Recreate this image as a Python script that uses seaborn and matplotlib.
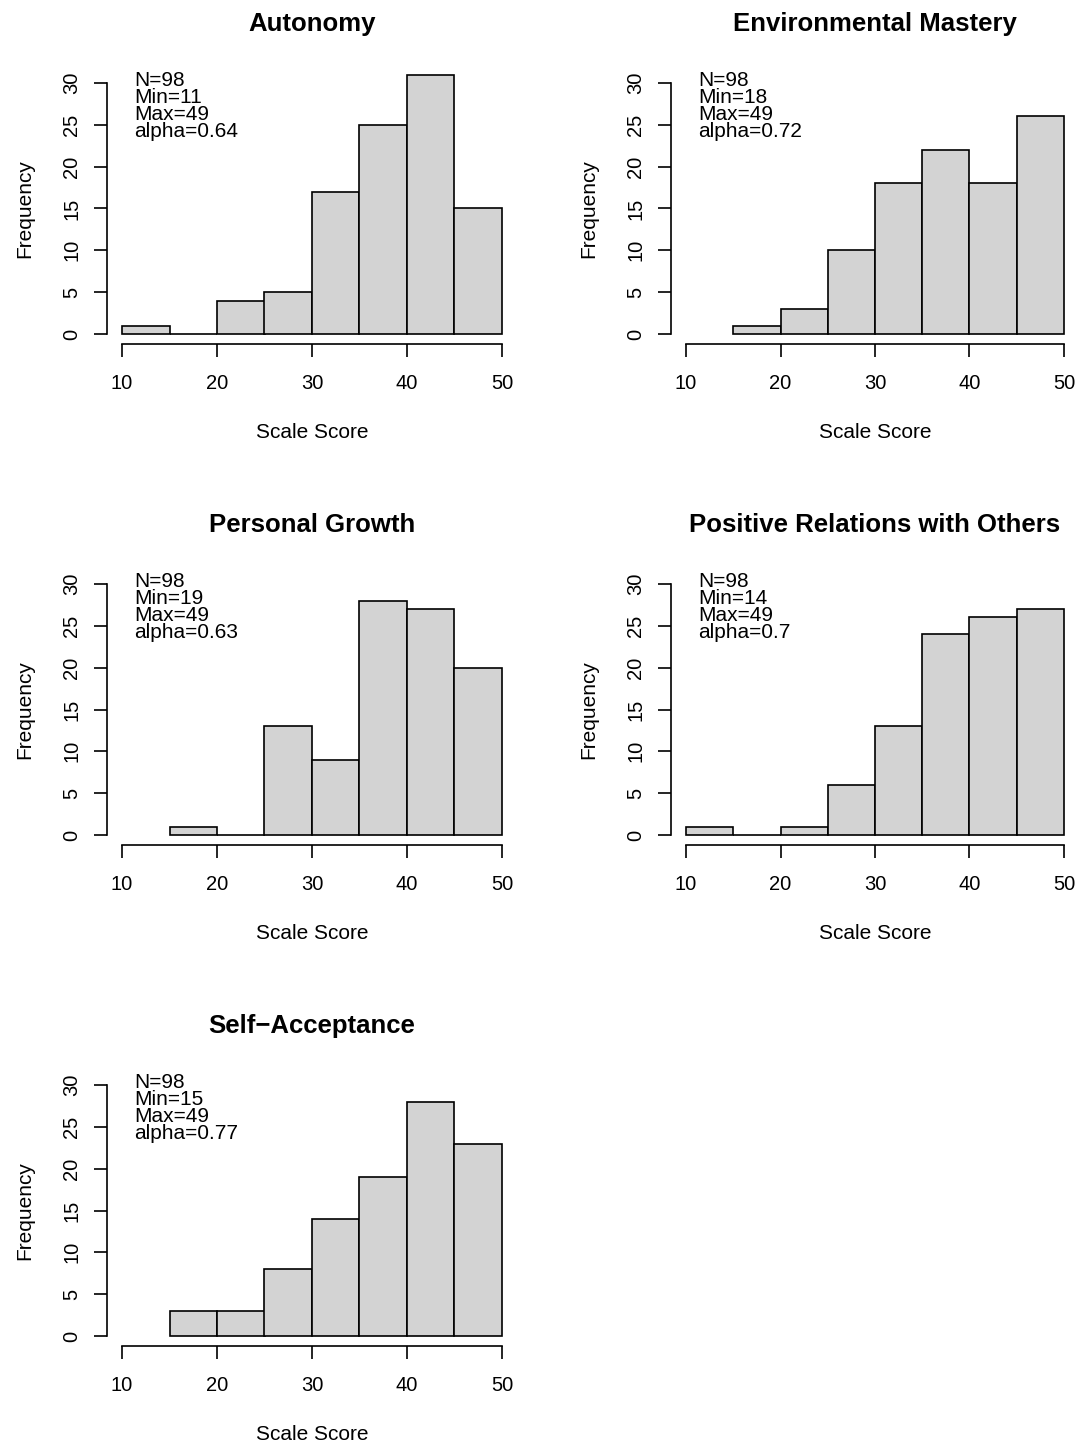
""" Histogramas das escalas de bem-estar (Ryff), 98 respondentes """
import pandas as pd
import matplotlib
matplotlib.use("Agg")
import matplotlib.pyplot as plt
import seaborn as sns

titles = ["Autonomy", "Environmental Mastery", "Personal Growth",
          "Positive Relations with Others", "Self\u2212Acceptance"]

autonomy_edges = [10, 15, 20, 25, 30, 35, 40, 45, 50]
autonomy_counts = [1, 0, 4, 5, 17, 25, 31, 15]

mastery_edges = [15, 20, 25, 30, 35, 40, 45, 50]
mastery_counts = [1, 3, 10, 18, 22, 18, 26]

growth_edges = [15, 20, 25, 30, 35, 40, 45, 50]
growth_counts = [1, 0, 13, 9, 28, 27, 20]

relations_edges = [10, 15, 20, 25, 30, 35, 40, 45, 50]
relations_counts = [1, 0, 1, 6, 13, 24, 26, 27]

acceptance_edges = [15, 20, 25, 30, 35, 40, 45, 50]
acceptance_counts = [3, 3, 8, 14, 19, 28, 23]

n_obs = [98, 98, 98, 98, 98]
min_scores = [11, 18, 19, 14, 15]
max_scores = [49, 49, 49, 49, 49]
alphas = ["0.64", "0.72", "0.63", "0.7", "0.77"]

all_edges = [autonomy_edges, mastery_edges, growth_edges, relations_edges, acceptance_edges]
all_counts = [autonomy_counts, mastery_counts, growth_counts, relations_counts, acceptance_counts]

sns.set_style("white")
plt.rcParams['font.family'] = ['Liberation Sans', 'DejaVu Sans']
plt.rcParams['text.color'] = 'black'
plt.rcParams['axes.labelcolor'] = 'black'

W, H = 1082, 1448
fig = plt.figure(figsize=(W / 100, H / 100), dpi=100)

# posições (px) das regiões de plotagem, como no layout do R
cols = [(106.8, 410.4), (670.9, 408.2)]
rows = [(73, 344), (574, 845), (1075, 1346)]

for i, title in enumerate(titles):
    left, width = cols[i % 2]
    top, bottom = rows[i // 2]
    ax = fig.add_axes([left / W, 1 - bottom / H, width / W, (bottom - top) / H])

    edges = all_edges[i]
    df = pd.DataFrame({"score": [(a + b) / 2 for a, b in zip(edges[:-1], edges[1:])],
                       "freq": all_counts[i]})
    sns.histplot(data=df, x="score", weights="freq", bins=list(edges), ax=ax,
                 color="#D3D3D3", edgecolor="black", linewidth=1.2, alpha=1)

    ax.set_xlim(8.4, 51.6)
    ax.set_ylim(-1.2, 31.2)
    ax.set_xticks([10, 20, 30, 40, 50])
    ax.set_yticks([0, 5, 10, 15, 20, 25, 30])
    ax.set_yticklabels(["0", "5", "10", "15", "20", "25", "30"], rotation=90, va="center")

    for side in ["top", "right"]:
        ax.spines[side].set_visible(False)
    ax.spines["left"].set_bounds(0, 30)
    ax.spines["bottom"].set_bounds(10, 50)
    for side in ["left", "bottom"]:
        ax.spines[side].set_color("black")
        ax.spines[side].set_linewidth(1.2)
    ax.tick_params(axis="both", direction="out", length=9.5, width=1.2,
                   colors="black", labelsize=14.5, left=True, bottom=True)
    ax.tick_params(axis="x", pad=12)
    ax.tick_params(axis="y", pad=9)

    ax.set_xlabel("Scale Score", fontsize=15, labelpad=22)
    ax.set_ylabel("Frequency", fontsize=15, labelpad=20)
    ax.set_title(title, fontsize=18.5, fontweight="bold", pad=30, color="black")

    lines = ["N=%d" % n_obs[i], "Min=%d" % min_scores[i],
             "Max=%d" % max_scores[i], "alpha=" + alphas[i]]
    for k, line in enumerate(lines):
        ax.text(11.3, 30.3 - 2.05 * k, line, fontsize=15, ha="left", va="center",
                color="black")

fig.savefig("out.png", dpi=100)
